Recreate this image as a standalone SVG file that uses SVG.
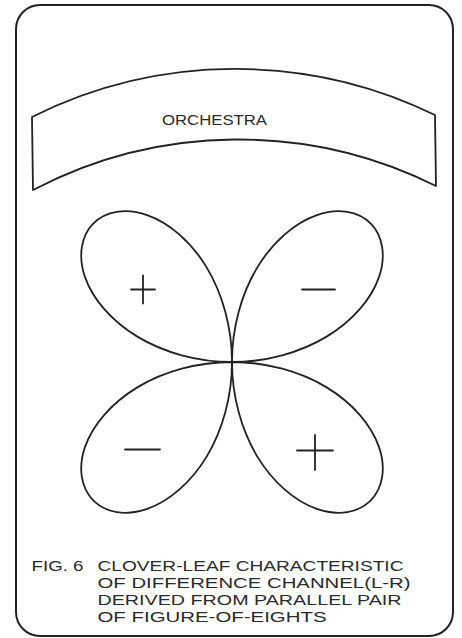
<svg xmlns="http://www.w3.org/2000/svg" xmlns:xlink="http://www.w3.org/1999/xlink" width="462" height="638" viewBox="0 0 462 638">
<style>
.ln{fill:none;stroke:#222;stroke-width:1.8;stroke-linejoin:round;stroke-linecap:round}
.tx{font-family:"Liberation Sans",Arial,sans-serif;fill:#2a2a2a}
</style>
<defs>
<path id="leaf" d="M0,0 C34.21,0 68.26,-9.43 94.66,-25.36 C121.06,-41.29 139.56,-63.49 146.97,-84.87 C154.38,-106.25 150.69,-126.49 138.59,-138.59 C126.49,-150.69 106.25,-154.38 84.87,-146.97 C63.49,-139.56 41.29,-121.06 25.36,-94.66 C9.43,-68.26 0,-34.21 0,0 Z"/>
</defs>
<rect width="462" height="638" fill="#fff"/>
<g id="frame">
<rect class="ln" x="16" y="5" width="437" height="631" rx="24" ry="24" style="stroke-width:2"/>
</g>
<g id="orchestra">
<path class="ln" d="M32,117 A455,455 0 0 1 435,115 L436,186 A443,443 0 0 0 33,190 Z"/>
<text class="tx" x="162" y="125" font-size="15" textLength="105" lengthAdjust="spacingAndGlyphs">ORCHESTRA</text>
</g>
<g id="clover" transform="translate(232,362)">
<use xlink:href="#leaf" class="ln" transform="scale(-1,1)"/>
<use xlink:href="#leaf" class="ln"/>
<use xlink:href="#leaf" class="ln" transform="scale(-1,-1)"/>
<use xlink:href="#leaf" class="ln" transform="scale(1,-1)"/>
</g>
<g id="signs">
<path class="ln" d="M131,289.5 H155 M143,275.5 V303.5"/>
<path class="ln" d="M302,289.5 H335"/>
<path class="ln" d="M125,449.5 H160"/>
<path class="ln" d="M297,450.5 H333 M315,435 V470"/>
</g>
<g id="connectors"></g>
<g id="caption" class="tx" font-size="15">
<text x="31.5" y="571" textLength="52" lengthAdjust="spacingAndGlyphs">FIG. 6</text>
<text x="97.5" y="571" textLength="306" lengthAdjust="spacingAndGlyphs">CLOVER-LEAF CHARACTERISTIC</text>
<text x="97.5" y="588" textLength="313" lengthAdjust="spacingAndGlyphs">OF DIFFERENCE CHANNEL(L-R)</text>
<text x="97.5" y="605" textLength="304" lengthAdjust="spacingAndGlyphs">DERIVED FROM PARALLEL PAIR</text>
<text x="97.5" y="622" textLength="229" lengthAdjust="spacingAndGlyphs">OF FIGURE-OF-EIGHTS</text>
</g>
</svg>
